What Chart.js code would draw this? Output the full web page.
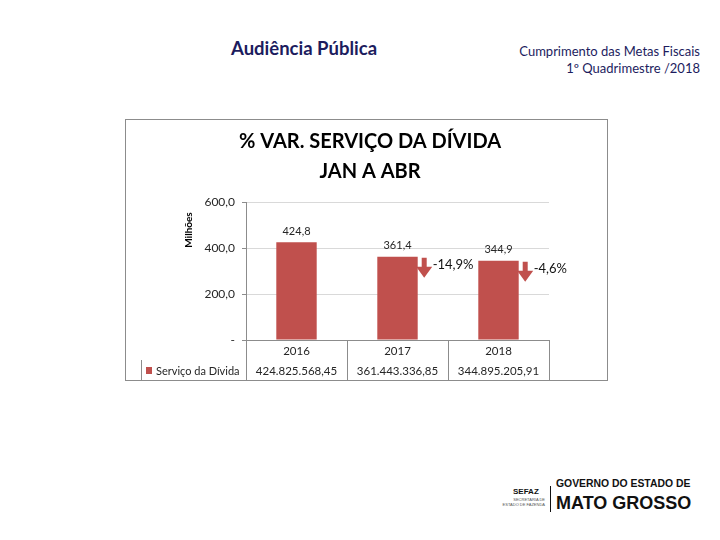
<!DOCTYPE html>
<html>
<head>
<meta charset="utf-8">
<script src="https://cdn.jsdelivr.net/npm/chart.js@4.4.0/dist/chart.umd.min.js"></script>
<style>
  body { margin: 0; width: 720px; height: 540px; background: #fff; position: relative; overflow: hidden; font-family: Lato, "Open Sans", sans-serif; }
  .hdr { position: absolute; color: #1c1c5e; white-space: nowrap; }
  #frame { position: absolute; left: 125px; top: 119px; width: 481px; height: 260px; border: 1px solid #8c8c8c; }
  .logo { position: absolute; font-family: "Liberation Sans", Arial, sans-serif; font-weight: bold; color: #111; white-space: nowrap; }
</style>
</head>
<body>
<div class="hdr" style="left:231px; top:37px; font-size:18.5px; font-weight:bold;">Audiência Pública</div>
<div class="hdr" style="right:20px; top:43px; font-size:13px; text-align:right; line-height:17px;">Cumprimento das Metas Fiscais<br>1º Quadrimestre /2018</div>

<div id="frame"><canvas id="divChart" width="481" height="260"></canvas></div>

<div class="logo" style="left:513px; top:487px; font-size:8px;">SEFAZ</div>
<div class="logo" style="left:497px; top:497px; font-size:4px; font-weight:normal; text-align:right; width:48px; line-height:5px; color:#555;">SECRETARIA DE<br>ESTADO DE FAZENDA</div>
<div style="position:absolute; left:550px; top:486px; width:1px; height:26px; background:#111;"></div>
<div class="logo" style="left:556px; top:478px; font-size:10.4px;">GOVERNO DO ESTADO DE</div>
<div class="logo" style="left:556px; top:493px; font-size:18px;">MATO GROSSO</div>

<script>
// dados (R$)
var anos = ['2016', '2017', '2018'];
var servicoDivida = [424825568.45, 361443336.85, 344895205.91];
var variacao = [null, -14.9, -4.6];
var serieNome = 'Serviço da Dívida';

var milhoes = servicoDivida.map(function (v) { return v / 1e6; });

function fmtBR(v, dec) {
    var parts = v.toFixed(dec).split('.');
    parts[0] = parts[0].replace(/\B(?=(\d{3})+(?!\d))/g, '.');
    return parts.join(',');
}

var corBarra = '#C0504D';
var corLinha = '#8c8c8c';
var corTexto = '#262626';

var extras = {
    id: 'extras',
    afterDatasetsDraw: function (chart) {
        var ctx = chart.ctx, area = chart.chartArea, x = chart.scales.x;
        var meta = chart.getDatasetMeta(0);
        ctx.save();
        meta.data.forEach(function (bar, i) {
            var p = bar.getProps(['x', 'y', 'width'], true);
            ctx.fillStyle = corTexto;
            ctx.font = '11px Lato, sans-serif';
            ctx.textAlign = 'center';
            ctx.textBaseline = 'middle';
            ctx.fillText(fmtBR(milhoes[i], 1), p.x, p.y - 11);
            if (variacao[i] !== null) {
                var r = p.x + p.width / 2, t = p.y;
                ctx.fillStyle = corBarra;
                ctx.beginPath();
                ctx.moveTo(r + 4, t + 1);
                ctx.lineTo(r + 9, t + 1);
                ctx.lineTo(r + 9, t + 10);
                ctx.lineTo(r + 14.5, t + 10);
                ctx.lineTo(r + 6.5, t + 21);
                ctx.lineTo(r - 1.5, t + 10);
                ctx.lineTo(r + 4, t + 10);
                ctx.closePath();
                ctx.fill();
                ctx.fillStyle = '#111';
                ctx.font = '13px Lato, sans-serif';
                ctx.textAlign = 'left';
                ctx.fillText(fmtBR(variacao[i], 1) + '%', r + 15, t + 8);
            }
        });

        // titulo do eixo
        ctx.save();
        ctx.translate(63, area.top + 28);
        ctx.rotate(-Math.PI / 2);
        ctx.fillStyle = '#000';
        ctx.font = 'bold 10px Lato, sans-serif';
        ctx.textAlign = 'center';
        ctx.textBaseline = 'middle';
        ctx.fillText('Milhões', 0, 0);
        ctx.restore();

        // tabela de dados
        var h = chart.height;
        var passo = x.getPixelForValue(1) - x.getPixelForValue(0);
        ctx.strokeStyle = corLinha;
        ctx.lineWidth = 1;
        ctx.beginPath();
        for (var k = 0; k <= anos.length; k++) {
            var bx = Math.round(x.getPixelForValue(0) - passo / 2 + k * passo) + 0.5;
            ctx.moveTo(bx, area.bottom);
            ctx.lineTo(bx, h);
        }
        ctx.moveTo(15.5, area.bottom + 20);
        ctx.lineTo(15.5, h);
        ctx.stroke();

        ctx.fillStyle = corTexto;
        ctx.font = '11.5px Lato, sans-serif';
        ctx.textAlign = 'center';
        ctx.textBaseline = 'middle';
        anos.forEach(function (a, i) {
            var cx = x.getPixelForValue(i);
            ctx.fillText(a, cx, area.bottom + 11);
            ctx.fillText(fmtBR(servicoDivida[i], 2), cx, area.bottom + 31);
        });
        ctx.fillStyle = corBarra;
        ctx.fillRect(20, area.bottom + 27, 6, 7);
        ctx.fillStyle = corTexto;
        ctx.textAlign = 'left';
        ctx.font = '11px Lato, sans-serif';
        ctx.fillText(serieNome, 30, area.bottom + 31);
        ctx.restore();
    }
};

Chart.defaults.font.family = 'Lato, "Open Sans", sans-serif';
Chart.defaults.color = corTexto;

var ctx = document.getElementById('divChart').getContext('2d');
var divChart = new Chart(ctx, {
    type: 'bar',
    data: {
        labels: anos,
        datasets: [{
            label: serieNome,
            data: milhoes,
            backgroundColor: corBarra,
            borderWidth: 0,
            barPercentage: 0.4,
            categoryPercentage: 1.0
        }]
    },
    options: {
        responsive: false,
        animation: false,
        layout: { padding: { top: 0, right: 58, bottom: 40, left: 65 } },
        plugins: {
            legend: { display: false },
            tooltip: { enabled: false },
            title: {
                display: true,
                text: ['% VAR. SERVIÇO DA DÍVIDA', 'JAN A ABR'],
                color: '#000',
                font: { size: 20, weight: 'bold', lineHeight: 1.5 },
                padding: { top: 6.5, bottom: 15.5 }
            }
        },
        scales: {
            x: { display: false },
            y: {
                min: 0,
                max: 600,
                ticks: {
                    stepSize: 200,
                    padding: 7,
                    font: { size: 12 },
                    callback: function (v) { return v === 0 ? '-' : fmtBR(v, 1); }
                },
                grid: {
                    color: function (c) { return c.tick && c.tick.value === 0 ? corLinha : '#d9d9d9'; },
                    tickColor: corLinha,
                    tickLength: 4
                },
                border: { color: corLinha },
                afterFit: function (scale) { scale.width = 55; }
            }
        }
    },
    plugins: [extras]
});
</script>
</body>
</html>
